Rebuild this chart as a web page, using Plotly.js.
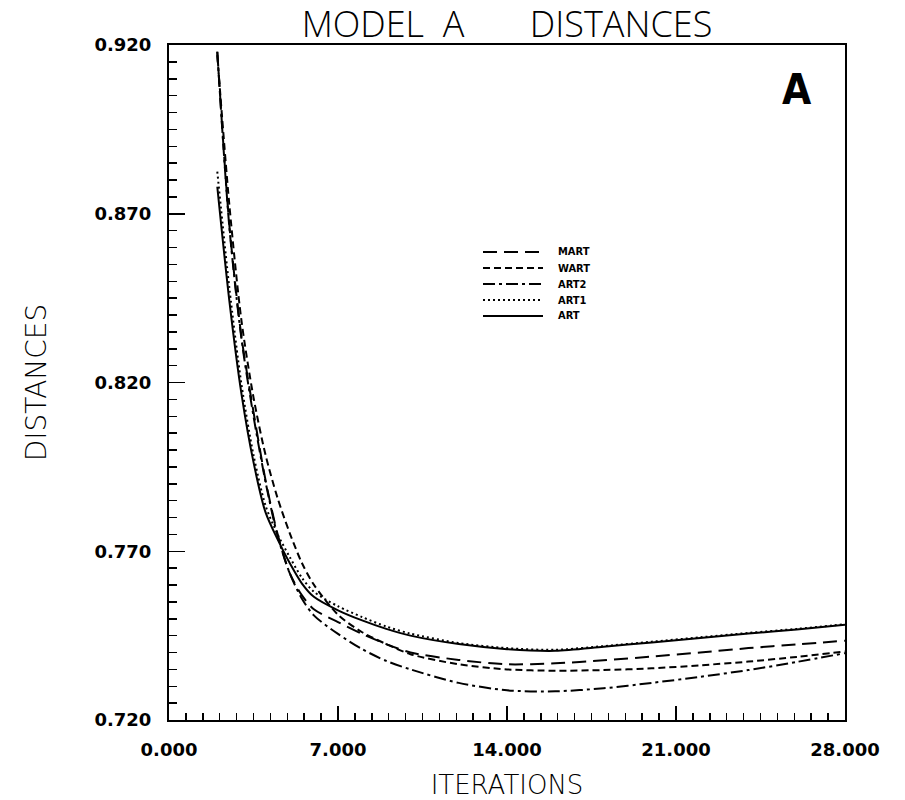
<!DOCTYPE html>
<html>
<head>
<meta charset="utf-8">
<script src="https://cdn.plot.ly/plotly-3.0.1.min.js"></script>
<style>html,body{margin:0;padding:0;background:#fff;}</style>
</head>
<body>
<div id="chart" style="width:905px;height:800px;"></div>
<script>
// Iteration grid (x) shared by all series
const iterations = [2, 2.5, 3, 3.5, 4, 4.5, 5, 5.5, 6, 7, 8, 9, 10, 12, 14, 16, 18, 20, 22, 24, 26, 28];

// Distances
const distMART = [0.918, 0.8666, 0.8336, 0.8113, 0.7910, 0.7750, 0.7635, 0.7570, 0.7528, 0.7490, 0.7455, 0.7425, 0.7400, 0.7378, 0.7365, 0.7368, 0.7377, 0.7388, 0.7400, 0.7413, 0.7424, 0.7435];
const distWART = [0.917, 0.8726, 0.8384, 0.8156, 0.7985, 0.7857, 0.7754, 0.7666, 0.7601, 0.7512, 0.7460, 0.7425, 0.7395, 0.7365, 0.7350, 0.7346, 0.7348, 0.7353, 0.7362, 0.7373, 0.7387, 0.7403];
const distART2 = [0.918, 0.8660, 0.8330, 0.8100, 0.7905, 0.7745, 0.7635, 0.7560, 0.7510, 0.7455, 0.7410, 0.7375, 0.7350, 0.7310, 0.7288, 0.7285, 0.7294, 0.7310, 0.7328, 0.7348, 0.7372, 0.7398];
const distART1 = [0.8825, 0.8480, 0.8195, 0.7985, 0.7835, 0.7750, 0.7683, 0.7622, 0.7580, 0.7537, 0.7505, 0.7477, 0.7456, 0.7428, 0.7413, 0.7408, 0.7419, 0.7432, 0.7445, 0.7458, 0.7470, 0.7484];
const distART  = [0.8780, 0.8442, 0.8167, 0.7964, 0.7815, 0.7735, 0.7665, 0.7605, 0.7565, 0.7525, 0.7495, 0.7470, 0.7450, 0.7425, 0.7410, 0.7405, 0.7417, 0.7430, 0.7443, 0.7456, 0.7468, 0.7482];

const seriesNames = ['MART', 'WART', 'ART2', 'ART1', 'ART'];
const seriesData = [distMART, distWART, distART2, distART1, distART];

// Axis ticks
const xTickStep = 7;
const yTickValues = [0.720, 0.770, 0.820, 0.870, 0.920];
const yTickLabels = ['0.720', '0.770', '0.820', '0.870', '0.920'];

// Styles
const dashStyles = ['14px,7px', '7px,4px', '12px,4px,3px,4px', '2px,3px', 'solid'];

const traces = seriesNames.map((name, i) => ({
  x: iterations,
  y: seriesData[i],
  name: name,
  type: 'scatter',
  mode: 'lines',
  line: {color: '#000', width: 2, dash: dashStyles[i], shape: 'spline', smoothing: 0.8},
  showlegend: false,
  hoverinfo: 'skip'
}));

// Manual legend (paper coordinates computed from pixel layout)
const W = 905, H = 800, mL = 169, mR = 60, mT = 45, mB = 80;
const pw = W - mL - mR, ph = H - mT - mB;
const px = X => (X - mL) / pw;
const py = Y => (H - mB - Y) / ph;
const legendRows = [252, 268, 284, 300, 316];

const shapes = seriesNames.map((n, i) => ({
  type: 'line', xref: 'paper', yref: 'paper',
  x0: px(483), x1: px(543), y0: py(legendRows[i]), y1: py(legendRows[i]),
  line: {color: '#000', width: 2, dash: dashStyles[i]}
}));

const annotations = seriesNames.map((n, i) => ({
  text: n, xref: 'paper', yref: 'paper', x: px(556), y: py(legendRows[i]),
  xanchor: 'left', yanchor: 'middle', showarrow: false,
  font: {family: 'DejaVu Sans Condensed, DejaVu Sans', size: 11, weight: 'bold', color: '#000'}
}));
annotations.push({
  text: 'A', xref: 'paper', yref: 'paper', x: px(797), y: py(89),
  xanchor: 'center', yanchor: 'middle', showarrow: false,
  font: {family: 'Liberation Sans Narrow, DejaVu Sans Condensed', size: 42, weight: 'bold', color: '#000'}
});

const tickFont = {family: 'DejaVu Sans', size: 18, weight: 'bold', color: '#000'};
const axisTitleFont = {family: 'DejaVu Sans', size: 25, weight: 200, color: '#000'};

const layout = {
  width: W, height: H,
  margin: {l: mL, r: mR, t: mT, b: mB},
  paper_bgcolor: '#fff', plot_bgcolor: '#fff',
  showlegend: false,
  title: {
    text: 'MODEL\u00A0\u00A0A\u00A0\u00A0\u00A0\u00A0\u00A0\u00A0\u00A0DISTANCES',
    x: 0.5, xref: 'paper', y: 1 - 24 / H, yref: 'container', yanchor: 'middle',
    font: {family: 'Open Sans, DejaVu Sans', size: 36, weight: 300, color: '#000'}
  },
  xaxis: {
    range: [0, 28], tick0: 0, dtick: xTickStep, tickformat: '.3f',
    ticks: 'inside', ticklen: 14, tickwidth: 1.5, tickcolor: '#000',
    showline: true, linewidth: 2, linecolor: '#000', mirror: true,
    showgrid: false, zeroline: false,
    minor: {tick0: 0, dtick: 0.7, ticks: 'inside', ticklen: 7, tickwidth: 1.5, tickcolor: '#000', showgrid: false},
    tickfont: tickFont, ticklabelstandoff: 12,
    title: {text: 'ITERATIONS', font: Object.assign({}, axisTitleFont, {size: 26}), standoff: 18}
  },
  yaxis: {
    range: [0.72, 0.92], tickvals: yTickValues, ticktext: yTickLabels,
    ticks: 'inside', ticklen: 16, tickwidth: 1.5, tickcolor: '#000',
    showline: true, linewidth: 2, linecolor: '#000', mirror: true,
    showgrid: false, zeroline: false,
    minor: {tick0: 0.72, dtick: 0.005, ticks: 'inside', ticklen: 8, tickwidth: 1.5, tickcolor: '#000', showgrid: false},
    tickfont: tickFont, ticklabelstandoff: 12,
    title: {text: 'DISTANCES', font: Object.assign({}, axisTitleFont, {size: 28}), standoff: 40}
  },
  shapes: shapes,
  annotations: annotations
};

Plotly.newPlot('chart', traces, layout, {displayModeBar: false, staticPlot: true});
</script>
</body>
</html>
